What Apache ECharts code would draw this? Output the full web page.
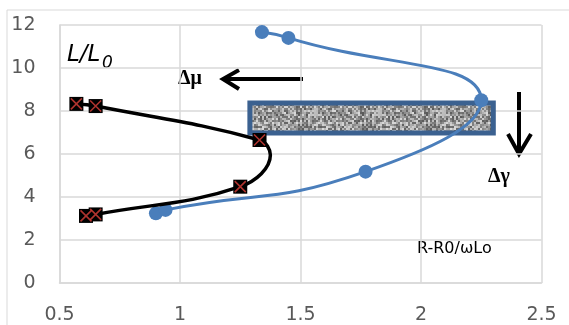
<!DOCTYPE html>
<html>
<head>
<meta charset="utf-8">
<script src="https://cdn.jsdelivr.net/npm/echarts@6/dist/echarts.min.js"></script>
<style>
  html, body { margin: 0; padding: 0; background: #fff; }
  #chart { width: 569px; height: 325px; }
</style>
</head>
<body>
<div id="chart"></div>
<script>
// blue curve (x = R-R0/wLo, y = L/L0)
const blueX = [0.90, 0.94, 1.77, 2.25, 1.45, 1.34];
const blueY = [3.24, 3.40, 5.18, 8.50, 11.40, 11.67];

// black curve with crossed squares
const blackX = [0.57, 0.65, 1.33, 1.25, 0.65, 0.61];
const blackY = [8.33, 8.23, 6.65, 4.48, 3.19, 3.12];
// rightmost bend of the black curve (no marker there)
const blackBend = [1.375, 5.95];

// shaded box, in data units
const boxX = [1.29, 2.30];
const boxY = [6.98, 8.37];

const xTicks = [0.5, 1, 1.5, 2, 2.5];
const yTicks = [0, 2, 4, 6, 8, 10, 12];

function pairs(xs, ys) {
  return xs.map((x, i) => [x, ys[i]]);
}

// black curve path: markers plus the bend between 3rd and 4th marker
const blackLine = pairs(blackX, blackY);
blackLine.splice(3, 0, { value: blackBend, symbol: "none" });

// grey speckled texture for the box
function noiseTexture() {
  const c = document.createElement("canvas");
  c.width = 64; c.height = 64;
  const ctx = c.getContext("2d");
  let s = 12345;
  for (let y = 0; y < 64; y += 2) {
    for (let x = 0; x < 64; x += 2) {
      s = (s * 1103515245 + 12345) & 0x7fffffff;
      const v = 90 + ((s >> 8) % 130);
      ctx.fillStyle = `rgb(${v},${v},${v})`;
      ctx.fillRect(x, y, 2, 2);
    }
  }
  return c;
}

const chart = echarts.init(document.getElementById("chart"));

const gridColor = "#d9d9d9";
const labelColor = "#595959";
const font = "'DejaVu Sans', sans-serif";

chart.setOption({
  animation: false,
  grid: { left: 59.5, right: 27.5, top: 25, bottom: 42 },
  xAxis: {
    type: "value",
    min: xTicks[0],
    max: xTicks[xTicks.length - 1],
    interval: 0.5,
    axisLine: { show: true, lineStyle: { color: gridColor, width: 1.5 } },
    axisTick: { show: false },
    splitLine: { show: true, lineStyle: { color: gridColor, width: 1.5 } },
    axisLabel: { color: labelColor, fontSize: 19, fontFamily: font, margin: 23 }
  },
  yAxis: {
    type: "value",
    min: yTicks[0],
    max: yTicks[yTicks.length - 1],
    interval: 2,
    axisLine: { show: true, lineStyle: { color: gridColor, width: 1.5 } },
    axisTick: { show: false },
    splitLine: { show: true, lineStyle: { color: gridColor, width: 1.5 } },
    axisLabel: { color: labelColor, fontSize: 19, fontFamily: font, margin: 24 }
  },
  series: [
    {
      type: "line",
      data: pairs(blueX, blueY),
      smooth: 0.5,
      symbol: "circle",
      symbolSize: 14,
      lineStyle: { color: "#4a7ebb", width: 3 },
      itemStyle: { color: "#4a7ebb" },
      z: 2
    },
    {
      type: "line",
      data: blackLine,
      smooth: 0.4,
      symbol: "rect",
      symbolSize: 14,
      lineStyle: { color: "#000", width: 3.5 },
      itemStyle: { color: "#000" },
      z: 3,
      markArea: {
        silent: true,
        itemStyle: {
          color: { image: noiseTexture(), repeat: "repeat" },
          borderColor: "#3b6190",
          borderWidth: 5
        },
        data: [[{ coord: [boxX[0], boxY[1]] }, { coord: [boxX[1], boxY[0]] }]]
      }
    },
    {
      type: "scatter",
      data: pairs(blackX, blackY),
      symbol: "path://M0 0L10 10M10 0L0 10",
      symbolSize: 11,
      itemStyle: { color: "none", borderColor: "#d9403a", borderWidth: 1.6 },
      z: 4
    }
  ],
  graphic: [
    {
      type: "rect", shape: { x: 7, y: 10, width: 600, height: 400 },
      style: { fill: "none", stroke: "#d9d9d9", lineWidth: 1 }, z: -1
    },
    {
      type: "text", left: 67, top: 44,
      style: { text: "L/L", font: "italic 23px 'DejaVu Sans', sans-serif", fill: "#000" }
    },
    {
      type: "text", left: 102, top: 55,
      style: { text: "0", font: "italic 17px 'DejaVu Sans', sans-serif", fill: "#000" }
    },
    {
      type: "text", left: 178, top: 69,
      style: { text: "Δμ", font: "bold 20px 'Liberation Serif', serif", fill: "#000" }
    },
    {
      type: "text", left: 488, top: 167,
      style: { text: "Δγ", font: "bold 20px 'Liberation Serif', serif", fill: "#000" }
    },
    {
      type: "text", left: 417, top: 241,
      style: { text: "R-R0/ωLo", font: "16px 'DejaVu Sans', sans-serif", fill: "#000" }
    },
    {
      type: "polyline", shape: { points: [[303, 79], [223, 79]] },
      style: { stroke: "#000", lineWidth: 4 }
    },
    {
      type: "polyline", shape: { points: [[239, 70], [223, 79], [239, 89]] },
      style: { stroke: "#000", lineWidth: 4, fill: "none", lineJoin: "miter" }
    },
    {
      type: "polyline", shape: { points: [[519, 92], [519, 154]] },
      style: { stroke: "#000", lineWidth: 4 }
    },
    {
      type: "polyline", shape: { points: [[508, 134], [519, 154], [531, 134]] },
      style: { stroke: "#000", lineWidth: 4, fill: "none", lineJoin: "miter" }
    }
  ]
});
</script>
</body>
</html>
